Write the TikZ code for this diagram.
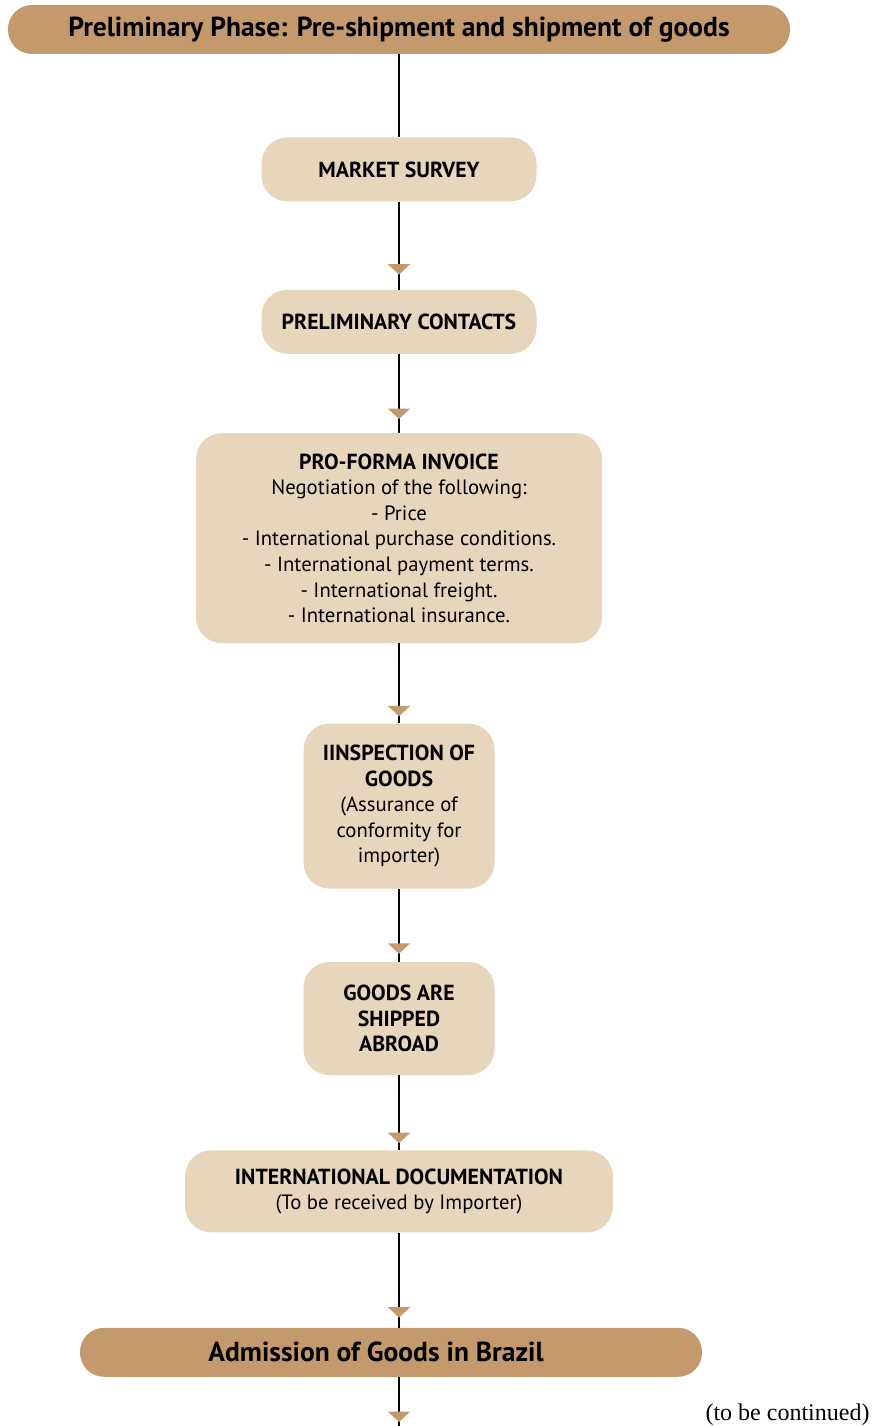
\documentclass[tikz,border=0pt]{standalone}
\usepackage{fontspec}
\setmainfont{PT Sans}
\newfontfamily\notefont{Liberation Serif}
\usetikzlibrary{arrows.meta, positioning, calc, decorations.markings}
\definecolor{ctan}{RGB}{196, 153, 108}
\definecolor{cbeige}{RGB}{230, 214, 188}
\newcommand{\stephead}[1]{{\fontsize{21.8}{25.6}\selectfont\bfseries #1}}
\tikzset{
  phase/.style={fill=ctan, rounded corners=24pt, align=center, inner sep=0pt,
                minimum height=49pt, font=\fontsize{27.5}{30}\selectfont\bfseries},
  stepbox/.style={fill=cbeige, rounded corners=26pt, align=center, inner sep=0pt,
                  font=\fontsize{20.7}{25.6}\selectfont},
  flow/.style={line width=2pt, draw=black,
               postaction={decorate, decoration={markings,
                 mark=at position -#1 with {\arrow[ctan]{Triangle[length=10.5pt, width=22pt]}}}}},
  flow/.default=10pt,
  plain/.style={line width=2pt, draw=black},
}

\begin{document}
\begin{tikzpicture}[x=1pt, y=1pt]
\useasboundingbox (0,0) rectangle (876,-1426);

% ---------- phase header ----------
\node[phase, minimum width=782pt] (prelim) at (399,-29.5)
  {Preliminary Phase: Pre-shipment and shipment of goods};

% ---------- steps ----------
\node[stepbox, minimum width=275pt, minimum height=64pt, below=83pt of prelim] (survey)
  {\stephead{MARKET SURVEY}};
\node[stepbox, minimum width=275pt, minimum height=64pt, below=88pt of survey] (contacts)
  {\stephead{PRELIMINARY CONTACTS}};
\node[stepbox, minimum width=406pt, minimum height=210pt, below=79pt of contacts] (invoice)
  {\stephead{PRO-FORMA INVOICE}\\ Negotiation of the following:\\ - Price\\
   - International purchase conditions.\\ - International payment terms.\\
   - International freight.\\ - International insurance.};
\node[stepbox, minimum width=191pt, minimum height=165pt, below=80pt of invoice] (inspect)
  {\stephead{IINSPECTION OF}\\ \stephead{GOODS}\\ (Assurance of\\ conformity for\\ importer)};
\node[stepbox, minimum width=191pt, minimum height=113pt, below=73pt of inspect] (shipped)
  {\stephead{GOODS ARE}\\ \stephead{SHIPPED}\\ \stephead{ABROAD}};
\node[stepbox, minimum width=428pt, minimum height=82pt, below=75pt of shipped] (docs)
  {\stephead{INTERNATIONAL DOCUMENTATION}\\ (To be received by Importer)};

% ---------- next phase ----------
\node[phase, minimum width=622pt, below=95pt of docs, xshift=-8pt] (admission)
  {Admission of Goods in Brazil\hspace*{30pt}};

\coordinate (cont) at (docs.south |- 0,-1426);
\node[anchor=base east, font=\notefont\fontsize{24}{26}\selectfont] (note) at (873,-1420)
  {(to be continued)};

% ---------- connectors ----------
\draw[plain] (prelim.south -| survey.north) -- (survey.north);
\draw[flow=15pt] (survey) -- (contacts);
\draw[flow=14pt] (contacts) -- (invoice);
\draw[flow=7pt] (invoice) -- (inspect);
\draw[flow=8pt] (inspect) -- (shipped);
\draw[flow=7pt] (shipped) -- (docs);
\draw[flow=10pt] (docs.south) -- (docs.south |- admission.north);
\draw[flow=4pt] (docs.south |- admission.south) -- (cont);

\end{tikzpicture}
\end{document}
